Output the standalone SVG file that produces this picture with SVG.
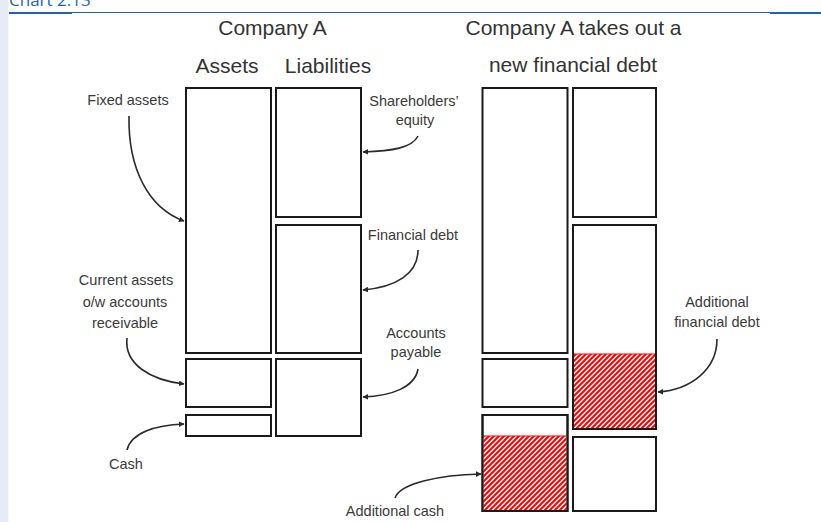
<svg xmlns="http://www.w3.org/2000/svg" width="821" height="522" viewBox="0 0 821 522">
  <defs>
    <style>
      .box { fill: #ffffff; stroke: #1a1a1a; stroke-width: 2; }
      .hatch { fill: url(#redHatch); }
      .hatchTop { stroke: #ff0000; stroke-width: 1.2; }
      .title { font-family: "Liberation Sans", Arial, sans-serif; font-size: 21px; fill: #333333; text-anchor: middle; }
      .label { font-family: "Liberation Sans", Arial, sans-serif; font-size: 14.5px; fill: #3a3a3a; text-anchor: middle; }
      .conn { fill: none; stroke: #2a2a2a; stroke-width: 1.6; marker-end: url(#arrow); }
    </style>
    <pattern id="redHatch" patternUnits="userSpaceOnUse" width="5" height="5">
      <rect width="5" height="5" fill="#ffffff"/>
      <path d="M-1,1 L1,-1 M0,5 L5,0 M4,6 L6,4" stroke="#ff0000" stroke-width="2"/>
    </pattern>
    <marker id="arrow" viewBox="0 0 10 10" refX="9" refY="5" markerWidth="3.5" markerHeight="3.5" orient="auto" markerUnits="strokeWidth">
      <path d="M0,0 L10,5 L0,10 z" fill="#2a2a2a"/>
    </marker>
  </defs>

  <!-- page background -->
  <rect x="0" y="0" width="821" height="522" fill="#ffffff"/>
  <rect x="0" y="0" width="8.5" height="522" fill="#e6ebf5"/>

  <!-- chart header -->
  <g id="header">
    <text x="9" y="6" font-family="'Open Sans', 'Liberation Sans', sans-serif" font-size="17px" fill="#1f62b0">Chart 2.13</text>
    <line x1="9" y1="12.5" x2="821" y2="12.5" stroke="#1f62b0" stroke-width="1"/>
    <line x1="9" y1="13" x2="72" y2="13" stroke="#1f62b0" stroke-width="2"/>
    <line x1="770" y1="13" x2="821" y2="13" stroke="#1f62b0" stroke-width="2"/>
  </g>

  <!-- titles -->
  <g id="titles">
    <text class="title" x="272.5" y="35">Company A</text>
    <text class="title" x="227" y="73">Assets</text>
    <text class="title" x="328" y="73">Liabilities</text>
    <text class="title" x="573.5" y="35">Company A takes out a</text>
    <text class="title" x="573" y="72">new financial debt</text>
  </g>

  <!-- Company A: assets -->
  <g id="a-fixed-assets"><rect class="box" x="186" y="88" width="85" height="265"/></g>
  <g id="a-current-assets"><rect class="box" x="186" y="359" width="85" height="48"/></g>
  <g id="a-cash"><rect class="box" x="186" y="415" width="85" height="21"/></g>
  <!-- Company A: liabilities -->
  <g id="a-equity"><rect class="box" x="276" y="88" width="85" height="129"/></g>
  <g id="a-financial-debt"><rect class="box" x="276" y="225" width="85" height="128"/></g>
  <g id="a-accounts-payable"><rect class="box" x="276" y="359" width="85" height="77"/></g>

  <!-- After new debt: assets -->
  <g id="b-fixed-assets"><rect class="box" x="482.5" y="88" width="85" height="265"/></g>
  <g id="b-current-assets"><rect class="box" x="482.5" y="359" width="85" height="48"/></g>
  <g id="b-cash">
    <rect class="box" x="482.5" y="415" width="85" height="96"/>
    <rect class="hatch" x="483.5" y="436" width="83" height="74"/>
    <line class="hatchTop" x1="483.5" y1="436" x2="566.5" y2="436"/>
    <rect x="482.5" y="415" width="85" height="96" fill="none" stroke="#1a1a1a" stroke-width="2"/>
  </g>
  <!-- After new debt: liabilities -->
  <g id="b-equity"><rect class="box" x="573" y="88" width="83" height="129"/></g>
  <g id="b-financial-debt">
    <rect class="box" x="573" y="225" width="83" height="204"/>
    <rect class="hatch" x="574" y="354" width="81" height="74"/>
    <line class="hatchTop" x1="574" y1="354" x2="655" y2="354"/>
    <rect x="573" y="225" width="83" height="204" fill="none" stroke="#1a1a1a" stroke-width="2"/>
  </g>
  <g id="b-accounts-payable"><rect class="box" x="573" y="437" width="83" height="74"/></g>

  <!-- labels -->
  <g id="label-fixed-assets"><text class="label" x="128" y="105">Fixed assets</text></g>
  <g id="label-equity">
    <text class="label" x="414" y="106">Shareholders’</text>
    <text class="label" x="415" y="125">equity</text>
  </g>
  <g id="label-financial-debt"><text class="label" x="413" y="240">Financial debt</text></g>
  <g id="label-current-assets">
    <text class="label" x="126" y="285">Current assets</text>
    <text class="label" x="125" y="306.5">o/w accounts</text>
    <text class="label" x="125" y="328">receivable</text>
  </g>
  <g id="label-accounts-payable">
    <text class="label" x="416" y="338">Accounts</text>
    <text class="label" x="416" y="357">payable</text>
  </g>
  <g id="label-cash"><text class="label" x="126" y="469">Cash</text></g>
  <g id="label-additional-debt">
    <text class="label" x="717" y="307">Additional</text>
    <text class="label" x="717" y="327">financial debt</text>
  </g>
  <g id="label-additional-cash"><text class="label" x="395" y="516">Additional cash</text></g>

  <!-- connectors -->
  <g id="connectors">
    <path class="conn" d="M129,116 C128,168 148,208 184,221"/>
    <path class="conn" d="M418,136 C412,148 392,151 363,152"/>
    <path class="conn" d="M418,250 C418,274 396,287 363,290"/>
    <path class="conn" d="M127,338 C124,364 150,380 184,384"/>
    <path class="conn" d="M127,450 C131,433 155,425 184,424"/>
    <path class="conn" d="M418,369 C415,387 392,396 363,397"/>
    <path class="conn" d="M717,339 C717,370 690,390 658,392"/>
    <path class="conn" d="M395,498 C400,483 440,475 481,474"/>
  </g>
</svg>
